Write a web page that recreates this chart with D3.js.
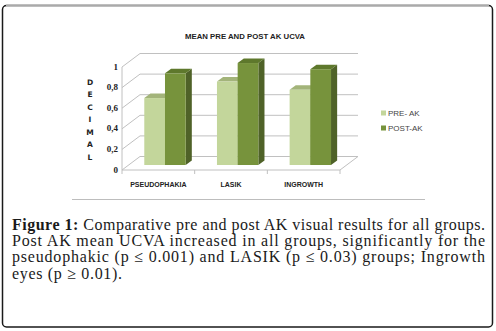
<!DOCTYPE html>
<html>
<head>
<meta charset="utf-8">
<script src="https://cdn.jsdelivr.net/npm/d3@7"></script>
<style>
  html, body { margin: 0; padding: 0; background: #fff; }
  svg { display: block; }
</style>
</head>
<body>
<svg id="chart" width="496" height="331"></svg>
<script>
// ---- data ----
const categories = ["PSEUDOPHAKIA", "LASIK", "INGROWTH"];
const seriesNames = ["PRE- AK", "POST-AK"];
const preValues = [0.65, 0.81, 0.73];
const postValues = [0.89, 0.99, 0.93];
const yTicks = [0, 0.2, 0.4, 0.6, 0.8, 1];
const yTickLabels = ["0", "0,2", "0,4", "0,6", "0,8", "1"];
const chartTitle = "MEAN PRE AND POST AK UCVA";
const yTitle = "DECIMAL";
const captionLines = [
  {bold: "Figure 1:", rest: " Comparative pre and post AK visual results for all groups.", width: 473},
  {bold: "", rest: "Post AK mean UCVA increased in all groups, significantly for the", width: 473},
  {bold: "", rest: "pseudophakic (p \u2264 0.001) and LASIK (p \u2264 0.03) groups; Ingrowth", width: 473},
  {bold: "", rest: "eyes (p \u2265 0.01).", width: 110}
];

const svg = d3.select("#chart");

// ---- frame ----
svg.append("rect").attr("x", 2.5).attr("y", 5.5).attr("width", 490).attr("height", 321.5)
  .attr("rx", 4).attr("fill", "#fff").attr("stroke", "#1a1a1a").attr("stroke-width", 1.5);
svg.append("line").attr("x1", 6).attr("x2", 489).attr("y1", 5.5).attr("y2", 5.5)
  .attr("stroke", "#aaaaaa").attr("stroke-width", 1.6);

// ---- scales ----
const depth = {dx: 18, dy: -13.5};
const x = d3.scaleBand().domain(categories).range([122, 340]).paddingInner(0).paddingOuter(0);
const xs = d3.scaleBand().domain(seriesNames).range([0, x.bandwidth()]).paddingInner(0).paddingOuter(0.755);
const y = d3.scaleLinear().domain([0, 1]).range([170, 67]);
const color = d3.scaleOrdinal().domain(seriesNames).range(["#c3d69b", "#77933c"]);
const topColor = d3.scaleOrdinal().domain(seriesNames).range(["#a3b47a", "#5e782c"]);
const sideColor = d3.scaleOrdinal().domain(seriesNames).range(["#8aa05a", "#4f6228"]);

const grid = svg.append("g").attr("stroke", "#c0c0c0").attr("stroke-width", 1).attr("fill", "none");
const [x0, x1] = x.range();
// back wall gridlines + left wall diagonals
yTicks.forEach(v => {
  const yb = y(v) + depth.dy;
  grid.append("line").attr("x1", x0 + depth.dx).attr("x2", x1 + depth.dx).attr("y1", yb).attr("y2", yb);
  grid.append("line").attr("x1", x0).attr("y1", y(v)).attr("x2", x0 + depth.dx).attr("y2", yb);
});
// floor front edge and right edge
grid.append("line").attr("x1", x0).attr("x2", x1).attr("y1", y(0)).attr("y2", y(0));
grid.append("line").attr("x1", x1).attr("y1", y(0)).attr("x2", x1 + depth.dx).attr("y2", y(0) + depth.dy);
// left vertical axis line
grid.append("line").attr("x1", x0).attr("x2", x0).attr("y1", y(1)).attr("y2", y(0));
// category ticks
[x0].concat(categories.map(c => x(c) + x.bandwidth())).forEach(tx => {
  grid.append("line").attr("x1", tx).attr("x2", tx).attr("y1", y(0)).attr("y2", y(0) + 4);
});

// ---- bars (3D) ----
const f0 = 0.37, f1 = 0.71;
const rows = [];
categories.forEach((c, i) => {
  rows.push({cat: c, s: seriesNames[0], v: preValues[i]});
  rows.push({cat: c, s: seriesNames[1], v: postValues[i]});
});
const bars = svg.append("g");
rows.forEach(d => {
  const bx = x(d.cat) + xs(d.s) + depth.dx * f0;
  const bw = xs.bandwidth();
  const ybot = y(0) + depth.dy * f0;
  const ytop = y(d.v) + depth.dy * f0;
  const ddx = depth.dx * (f1 - f0), ddy = depth.dy * (f1 - f0);
  bars.append("path").attr("fill", sideColor(d.s))
    .attr("d", `M${bx + bw},${ybot} L${bx + bw + ddx},${ybot + ddy} L${bx + bw + ddx},${ytop + ddy} L${bx + bw},${ytop} Z`);
  bars.append("path").attr("fill", topColor(d.s))
    .attr("d", `M${bx},${ytop} L${bx + ddx},${ytop + ddy} L${bx + bw + ddx},${ytop + ddy} L${bx + bw},${ytop} Z`);
  bars.append("rect").attr("x", bx).attr("y", ytop).attr("width", bw).attr("height", ybot - ytop)
    .attr("fill", color(d.s));
});

// ---- y tick labels ----
svg.append("g").selectAll("text").data(yTicks).join("text")
  .attr("x", 118).attr("y", v => y(v) + 2.5)
  .attr("text-anchor", "end")
  .attr("font-family", "Liberation Serif, serif").attr("font-weight", "bold")
  .attr("font-size", 9).attr("fill", "#222")
  .text((v, i) => yTickLabels[i]);

// ---- y title (stacked letters) ----
svg.append("g").selectAll("text").data(yTitle.split("")).join("text")
  .attr("x", 90).attr("y", (c, i) => 84.5 + i * 12.5)
  .attr("text-anchor", "middle")
  .attr("font-family", "DejaVu Sans, sans-serif").attr("font-weight", "bold")
  .attr("font-size", 7.5).attr("fill", "#222")
  .text(c => c);

// ---- category labels ----
svg.append("g").selectAll("text").data(categories).join("text")
  .attr("x", c => x(c) + x.bandwidth() / 2)
  .attr("y", 186.5)
  .attr("text-anchor", "middle")
  .attr("font-family", "Liberation Sans, Arial, sans-serif").attr("font-weight", "bold")
  .attr("font-size", 7).attr("fill", "#222")
  .text(c => c);

// ---- title ----
svg.append("text").attr("x", 245).attr("y", 38.5).attr("text-anchor", "middle")
  .attr("font-family", "Liberation Sans, Arial, sans-serif").attr("font-weight", "bold")
  .attr("font-size", 7.5).attr("fill", "#222")
  .attr("textLength", 120).attr("lengthAdjust", "spacingAndGlyphs")
  .text(chartTitle);

// ---- legend ----
const leg = svg.append("g");
seriesNames.forEach((s, i) => {
  const ly = 113 + i * 15;
  leg.append("rect").attr("x", 381).attr("y", ly - 2.5).attr("width", 5).attr("height", 5).attr("fill", color(s));
  leg.append("text").attr("x", 388).attr("y", ly + 3)
    .attr("font-family", "Liberation Sans, Arial, sans-serif")
    .attr("font-size", 8).attr("fill", "#444").text(s);
});

// ---- separator ----
svg.append("line").attr("x1", 72).attr("x2", 425).attr("y1", 199.5).attr("y2", 199.5)
  .attr("stroke", "#bdbdbd").attr("stroke-width", 1);

// ---- caption ----
const cap = svg.append("g").attr("font-family", "Liberation Serif, 'Times New Roman', serif")
  .attr("font-size", 16).attr("fill", "#1a1a1a");
captionLines.forEach((ln, i) => {
  const t = cap.append("text").attr("x", 12).attr("y", 230 + i * 16.2)
    .attr("textLength", ln.width).attr("lengthAdjust", "spacing");
  if (ln.bold) t.append("tspan").attr("font-weight", "bold").text(ln.bold);
  t.append("tspan").text(ln.rest);
});
</script>
</body>
</html>
